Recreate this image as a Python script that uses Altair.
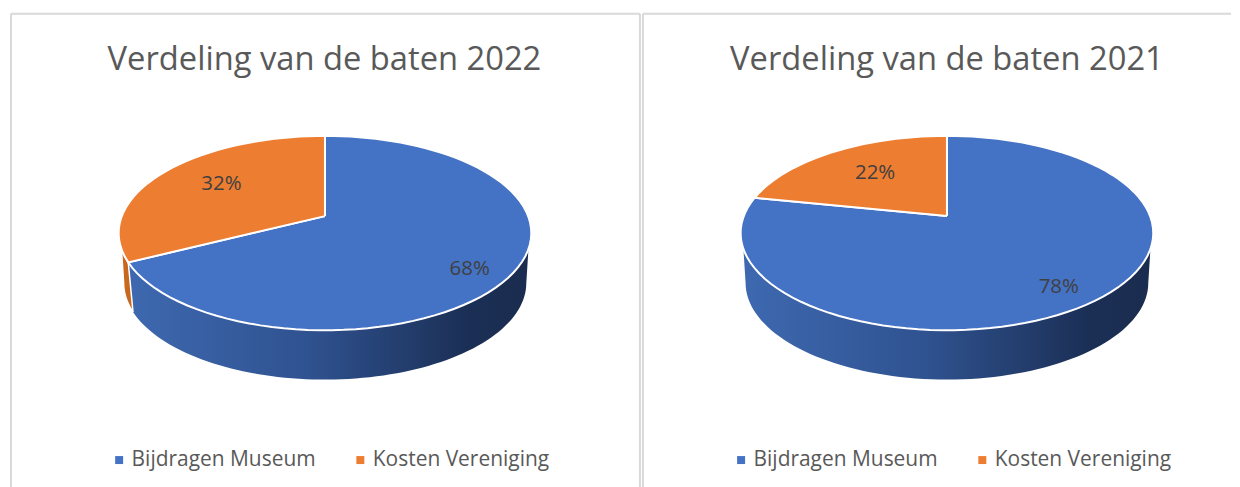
import math
import altair as alt
import pandas as pd

# ---- values
titles = ["Verdeling van de baten 2022", "Verdeling van de baten 2021"]
categories = ["Bijdragen Museum", "Kosten Vereniging"]
values_2022 = [68, 32]
values_2021 = [78, 22]
label_radius_2022 = [172, 123]
label_radius_2021 = [176, 113]
label_nudge_2022 = [7, 1]
label_nudge_2021 = [3, 0]
colors = ["#4472C4", "#ED7D31"]
TEXT = "#595959"
BORDER = "#D9D9D9"
FONT = "Open Sans"

# ---- drawing of the tilted disc (panel pixel units)
RX, RY = 207.0, 97.5
TILT = 0.5
APEX_DROP = 17.0
RIM_START = 9.5
RIM_END = 170.5
BOTTOM_RX, BOTTOM_RY = 202.0, 97.0
BOTTOM_DROP = 50.0


def rim_point(theta, cx, cy):
    dx, dy = math.sin(theta), -math.cos(theta) * TILT
    ax, ay = cx, cy - APEX_DROP
    a = (dx / RX) ** 2 + (dy / RY) ** 2
    b = 2 * (ax - cx) * dx / RX**2 + 2 * (ay - cy) * dy / RY**2
    c = ((ax - cx) / RX) ** 2 + ((ay - cy) / RY) ** 2 - 1
    s = (-b + math.sqrt(b * b - 4 * a * c)) / (2 * a)
    return ax + s * dx, ay + s * dy


def wedge_rows(name, start, end, cx, cy):
    pts = [(cx, cy - APEX_DROP)]
    n = max(2, int((end - start) * 120))
    for i in range(n + 1):
        pts.append(rim_point(2 * math.pi * (start + (end - start) * i / n), cx, cy))
    pts.append(pts[0])
    return [{"name": name, "i": i, "x": p[0], "y": p[1]} for i, p in enumerate(pts)]


def wall_rows(t_a, t_b, b_a, b_b, cx, cy):
    rows = []
    n = 80
    for i in range(n + 1):
        t = math.radians(t_a + (t_b - t_a) * i / n)
        rows.append((cx + RX * math.cos(t), cy + RY * math.sin(t)))
    for i in range(n + 1):
        t = math.radians(b_b + (b_a - b_b) * i / n)
        rows.append((cx + BOTTOM_RX * math.cos(t), cy + BOTTOM_DROP + BOTTOM_RY * math.sin(t)))
    rows.append(rows[0])
    return pd.DataFrame([{"i": i, "x": p[0], "y": p[1]} for i, p in enumerate(rows)])


def frame_rule(x, x2, y, y2):
    return (
        alt.Chart(pd.DataFrame({"a": [0]}))
        .mark_rule(color=BORDER, strokeWidth=2)
        .encode(x=alt.value(x), x2=alt.value(x2), y=alt.value(y), y2=alt.value(y2))
    )


def panel(title, values, radii, nudges, width, height, cx, cy, title_offset, title_dx,
          legend_x, legend_y, right_edge):
    total = sum(values)
    cut = values[0] / total
    wedges = wedge_rows(categories[0], 0, cut, cx, cy) + wedge_rows(categories[1], cut, 1, cx, cy)
    wedges = pd.DataFrame(wedges)

    px, py = rim_point(2 * math.pi * cut, cx, cy)
    t_cut = math.degrees(math.atan2((py - cy) / RY, (px - cx) / RX)) % 360

    labels = []
    fr = 0.0
    for name, v, r, nudge in zip(categories, values, radii, nudges):
        mid = 2 * math.pi * (fr + v / total / 2)
        labels.append({
            "text": f"{v}%",
            "x": cx + r * math.sin(mid),
            "y": cy - APEX_DROP - r * math.cos(mid) * TILT + nudge,
        })
        fr += v / total
    labels = pd.DataFrame(labels)

    xs = alt.Scale(domain=[0, width], range=[0, width], nice=False, zero=False)
    ys = alt.Scale(domain=[0, height], range=[0, height], nice=False, zero=False)
    X = alt.X("x:Q", scale=xs, axis=None)
    Y = alt.Y("y:Q", scale=ys, axis=None)

    blue_grad = alt.Gradient(
        gradient="linear", x1=0, x2=1, y1=0, y2=0,
        stops=[
            alt.GradientStop(color="#3E69B0", offset=0),
            alt.GradientStop(color="#2F5290", offset=0.45),
            alt.GradientStop(color="#1B2F55", offset=0.85),
            alt.GradientStop(color="#1A2C4F", offset=1),
        ],
    )
    layers = [frame_rule(0, width, 0, 0), frame_rule(0, 0, 0, height)]
    if right_edge:
        layers.append(frame_rule(width, width, 0, height))
    has_orange = RIM_START < t_cut < RIM_END
    blue_end = t_cut if has_orange else RIM_END
    blue_bottom = t_cut if has_orange else 180
    layers.append(
        alt.Chart(wall_rows(RIM_START, blue_end, 0, blue_bottom, cx, cy))
        .mark_line(fill=blue_grad, stroke=None, strokeWidth=0, clip=False)
        .encode(x=X, y=Y, order="i:Q")
    )
    if has_orange:
        layers.append(
            alt.Chart(wall_rows(t_cut, RIM_END, t_cut, 180, cx, cy))
            .mark_line(fill="#C8681F", stroke="white", strokeWidth=1.5)
            .encode(x=X, y=Y, order="i:Q")
        )
    layers.append(
        alt.Chart(wedges)
        .mark_line(filled=True, stroke="white", strokeWidth=2)
        .encode(
            x=X, y=Y, order="i:Q",
            color=alt.Color(
                "name:N",
                scale=alt.Scale(domain=categories, range=colors),
                sort=categories,
                legend=alt.Legend(
                    title=None, orient="none", legendX=legend_x, legendY=legend_y,
                    direction="horizontal", columns=2, columnPadding=34, labelLimit=0,
                    symbolType="square", symbolSize=64, symbolStrokeWidth=0,
                    labelFont=FONT, labelFontSize=21, labelColor=TEXT, labelOffset=2,
                ),
            ),
        )
    )
    layers.append(
        alt.Chart(labels)
        .mark_text(font=FONT, fontSize=20.5, color="#404040", align="center", baseline="middle")
        .encode(x=X, y=Y, text="text:N")
    )
    return alt.layer(*layers).properties(
        width=width, height=height,
        title=alt.TitleParams(
            title, font=FONT, fontSize=32.8, fontWeight="normal", color=TEXT,
            anchor="middle", offset=title_offset, dx=title_dx, frame="group",
        ),
    )


left = panel(titles[0], values_2022, label_radius_2022, label_nudge_2022,
             631, 476, 315, 220, -64, -1, 98, 437, True)
right = panel(titles[1], values_2021, label_radius_2021, label_nudge_2021,
              590, 476, 305, 220, -64, 10, 88, 437, False)

chart = (
    alt.hconcat(left, right, spacing=1)
    .resolve_scale(color="independent")
    .configure_view(stroke=None)
    .properties(padding={"left": 2, "top": 4, "right": 0, "bottom": 0})
)
chart.save("out.html", embed_options={"renderer": "svg", "actions": False})
